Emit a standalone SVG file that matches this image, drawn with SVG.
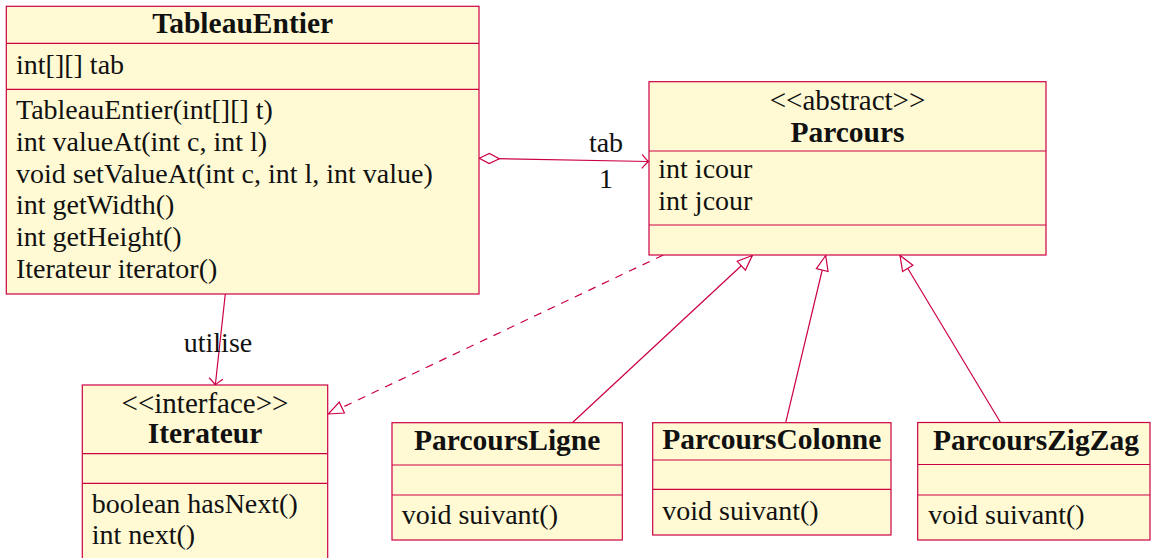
<svg xmlns="http://www.w3.org/2000/svg" width="1151" height="558" viewBox="0 0 1151 558">
  <style>
    .box { fill: #FFFAD4; stroke: #CC0044; stroke-width: 1.2; }
    .sep { stroke: #CC0044; stroke-width: 1.2; }
    .edge { fill: none; stroke: #CC0044; stroke-width: 1.2; }
    .dash { stroke-dasharray: 8 7; }
    text { font-family: "Liberation Serif", "Times New Roman", serif; font-size: 28px; fill: #111111; }
    .title { font-weight: bold; font-size: 29.5px; text-anchor: middle; }
    .stereo { text-anchor: middle; font-size: 29px; }
    .lbl { text-anchor: middle; }
  </style>
  <defs>
    <marker id="open" markerUnits="userSpaceOnUse" orient="auto" markerWidth="20" markerHeight="20" refX="0" refY="0" overflow="visible">
      <path d="M-6.5,-7 Q-2,-1.5 0,0 Q-2,1.5 -6.5,7" fill="none" stroke="#CC0044" stroke-width="1.2"/>
    </marker>
    <marker id="tri" markerUnits="userSpaceOnUse" orient="auto" markerWidth="20" markerHeight="20" refX="0" refY="0" overflow="visible">
      <path d="M0,0 L-15,-6 L-15,6 Z" fill="#ffffff" stroke="#CC0044" stroke-width="1.2"/>
    </marker>
    <marker id="diamond" markerUnits="userSpaceOnUse" orient="auto" markerWidth="24" markerHeight="12" refX="0" refY="0" overflow="visible">
      <path d="M0,0 L10,-5 L20,0 L10,5 Z" fill="#ffffff" stroke="#CC0044" stroke-width="1.2"/>
    </marker>
  </defs>

  <!-- relations -->
  <g id="connectors">
    <line class="edge" x1="479.3" y1="158.3" x2="648.5" y2="161.5" marker-start="url(#diamond)" marker-end="url(#open)"/>
    <text class="lbl" x="606" y="152">tab</text>
    <text class="lbl" x="606" y="188">1</text>

    <line class="edge" x1="225.3" y1="294" x2="215.3" y2="385" marker-end="url(#open)"/>
    <text class="lbl" x="218" y="352">utilise</text>

    <line class="edge dash" x1="663.3" y1="255" x2="328.3" y2="414" marker-end="url(#tri)"/>

    <line class="edge" x1="572.3" y1="422.7" x2="752.3" y2="255.5" marker-end="url(#tri)"/>
    <line class="edge" x1="785.7" y1="422.7" x2="825.7" y2="255.5" marker-end="url(#tri)"/>
    <line class="edge" x1="1000.7" y1="422.7" x2="900" y2="255.5" marker-end="url(#tri)"/>
  </g>

  <!-- class TableauEntier -->
  <g id="TableauEntier">
    <rect class="box" x="6.3" y="6.3" width="472.7" height="287.7"/>
    <line class="sep" x1="6.3" y1="43.3" x2="479" y2="43.3"/>
    <line class="sep" x1="6.3" y1="89.3" x2="479" y2="89.3"/>
    <text class="title" x="242.7" y="33.3">TableauEntier</text>
    <text x="16" y="73.5">int[][] tab</text>
    <text x="16" y="119">TableauEntier(int[][] t)</text>
    <text x="16" y="150.8">int valueAt(int c, int l)</text>
    <text x="16" y="182.5">void setValueAt(int c, int l, int value)</text>
    <text x="16" y="214.2">int getWidth()</text>
    <text x="16" y="245.9">int getHeight()</text>
    <text x="16" y="277.5">Iterateur iterator()</text>
  </g>

  <!-- abstract class Parcours -->
  <g id="Parcours">
    <rect class="box" x="649" y="81.7" width="397" height="173.3"/>
    <line class="sep" x1="649" y1="151" x2="1046" y2="151"/>
    <line class="sep" x1="649" y1="225" x2="1046" y2="225"/>
    <text class="stereo" x="847.5" y="110">&lt;&lt;abstract&gt;&gt;</text>
    <text class="title" x="847.5" y="141.7">Parcours</text>
    <text x="658.3" y="177.8">int icour</text>
    <text x="658.3" y="209.8">int jcour</text>
  </g>

  <!-- interface Iterateur -->
  <g id="Iterateur">
    <rect class="box" x="82.3" y="385" width="245.4" height="190"/>
    <line class="sep" x1="82.3" y1="453.7" x2="327.7" y2="453.7"/>
    <line class="sep" x1="82.3" y1="483.3" x2="327.7" y2="483.3"/>
    <text class="stereo" x="205" y="413.3">&lt;&lt;interface&gt;&gt;</text>
    <text class="title" x="205" y="443.3">Iterateur</text>
    <text x="91.7" y="512.8">boolean hasNext()</text>
    <text x="91.7" y="543.8">int next()</text>
  </g>

  <!-- class ParcoursLigne -->
  <g id="ParcoursLigne">
    <rect class="box" x="392" y="422.7" width="230.3" height="117.3"/>
    <line class="sep" x1="392" y1="465" x2="622.3" y2="465"/>
    <line class="sep" x1="392" y1="495" x2="622.3" y2="495"/>
    <text class="title" x="507.2" y="450">ParcoursLigne</text>
    <text x="401.7" y="523.8">void suivant()</text>
  </g>

  <!-- class ParcoursColonne -->
  <g id="ParcoursColonne">
    <rect class="box" x="652.7" y="422.7" width="238.3" height="112.3"/>
    <line class="sep" x1="652.7" y1="460" x2="891" y2="460"/>
    <line class="sep" x1="652.7" y1="489.3" x2="891" y2="489.3"/>
    <text class="title" x="771.8" y="449">ParcoursColonne</text>
    <text x="662.3" y="519.8">void suivant()</text>
  </g>

  <!-- class ParcoursZigZag -->
  <g id="ParcoursZigZag">
    <rect class="box" x="917.7" y="422.5" width="232.3" height="117.5"/>
    <line class="sep" x1="917.7" y1="464.5" x2="1150" y2="464.5"/>
    <line class="sep" x1="917.7" y1="495" x2="1150" y2="495"/>
    <text class="title" x="1036" y="450">ParcoursZigZag</text>
    <text x="928.3" y="523.8">void suivant()</text>
  </g>
</svg>
